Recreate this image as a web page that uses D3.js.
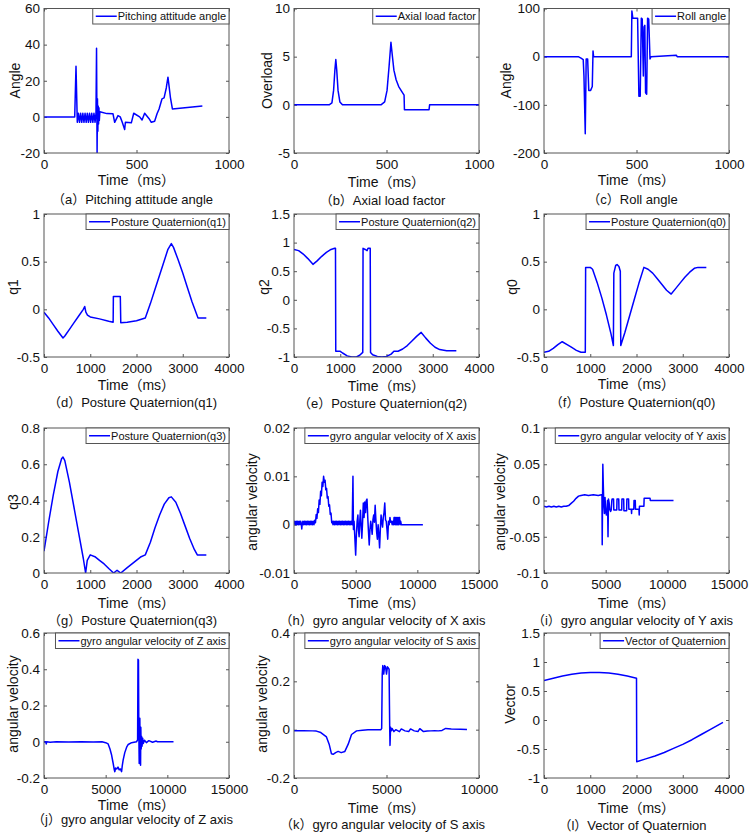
<!DOCTYPE html>
<html><head><meta charset="utf-8">
<script src="https://cdn.jsdelivr.net/npm/d3@7"></script>
<style>
body{margin:0;background:#fff}
text{font-family:"Liberation Sans",Arial,"Noto Sans CJK SC",sans-serif;fill:#111}
</style>
</head><body>
<svg id="c" width="750" height="835"></svg>
<script>
// ---------------- data ----------------
const pitchData = [[0,0],[166,0],[173,28],[180,-3],[186,2],[192,-3],[198,2],[204,-3],[210,2],[216,-3],[222,2],[228,-3],[234,2],[240,-3],[246,2],[252,-3],[258,2],[264,-3],[270,2],[276,-3],[281,2],[284,38],[287,-20],[289,10],[291,-8],[293,6],[295,-4],[297,5],[299,-2],[302,2.8],[340,1.8],[373,1.7],[382,-3],[400,0.7],[412,0],[423,-3],[436,-7],[440,-3],[472,-3.3],[485,2],[517,0],[530,-1.7],[544,2],[568,-1],[580,-3],[598,-2.4],[611,1.7],[622,4.4],[638,10],[649,10.5],[661,16],[670,22],[676,17],[683,11],[694,4.4],[856,6]];
const axialData = [[0,0],[190,0],[205,0.2],[214,1.5],[221,3.6],[226,4.7],[231,3.6],[238,1.5],[248,0.3],[262,0],[470,0],[490,0.3],[503,1.5],[514,4],[524,6.5],[531,5.2],[540,3.6],[552,2.6],[566,1.9],[582,1.4],[595,1.0],[597,-0.5],[730,-0.5],[733,0],[1000,0]];
const rollData = [[0,0],[185,0],[200,-3],[212,-6],[216,-40],[223,-160],[228,-5],[236,-5],[242,-70],[252,-70],[261,-62],[265,12],[268,0],[472,0],[475,95],[480,80],[506,80],[513,-82],[520,-82],[526,80],[531,78],[537,-40],[541,62],[545,65],[549,-75],[555,-78],[560,80],[566,78],[573,-5],[578,0],[715,3],[720,0],[1000,0]];
const q1Data = [[0,-0.03],[100,-0.09],[200,-0.16],[300,-0.23],[411,-0.3],[450,-0.28],[550,-0.21],[650,-0.14],[750,-0.07],[850,0],[880,0.03],[905,-0.03],[940,-0.06],[1000,-0.08],[1200,-0.1],[1400,-0.125],[1495,-0.135],[1500,0.135],[1650,0.135],[1660,-0.14],[1800,-0.135],[2000,-0.12],[2190,-0.09],[2300,0.06],[2400,0.21],[2500,0.36],[2600,0.51],[2680,0.63],[2753,0.69],[2800,0.65],[2900,0.52],[3000,0.38],[3100,0.23],[3200,0.08],[3330,-0.09],[3510,-0.09]];
const q2Data = [[0,0.88],[100,0.86],[200,0.8],[300,0.72],[410,0.62],[500,0.68],[600,0.76],[700,0.83],[800,0.88],[880,0.9],[897,0.9],[903,-0.9],[1000,-0.9],[1050,-0.93],[1150,-0.98],[1250,-1.0],[1350,-1.0],[1420,-0.97],[1487,-0.92],[1493,0.9],[1540,0.88],[1580,0.86],[1600,0.9],[1648,0.9],[1655,-0.92],[1700,-0.96],[1800,-0.99],[1900,-1.0],[2000,-0.99],[2100,-0.95],[2160,-0.9],[2250,-0.9],[2350,-0.86],[2450,-0.8],[2550,-0.72],[2650,-0.64],[2750,-0.57],[2850,-0.67],[2950,-0.76],[3050,-0.83],[3150,-0.87],[3300,-0.89],[3510,-0.89]];
const q0Data = [[0,-0.45],[100,-0.44],[200,-0.41],[300,-0.37],[394,-0.34],[500,-0.37],[600,-0.4],[700,-0.43],[800,-0.45],[893,-0.45],[900,0.44],[1000,0.44],[1050,0.42],[1150,0.28],[1250,0.12],[1350,-0.06],[1450,-0.26],[1500,-0.38],[1510,0.38],[1550,0.46],[1580,0.47],[1620,0.45],[1650,0.4],[1660,-0.38],[1750,-0.24],[1850,-0.07],[1950,0.1],[2050,0.27],[2160,0.44],[2250,0.42],[2350,0.38],[2450,0.32],[2550,0.26],[2650,0.2],[2750,0.16],[2850,0.22],[2950,0.28],[3050,0.34],[3150,0.39],[3250,0.43],[3330,0.44],[3510,0.44]];
const q3Data = [[0,0.12],[100,0.28],[200,0.43],[300,0.56],[380,0.63],[411,0.64],[450,0.62],[550,0.5],[650,0.36],[750,0.22],[850,0.08],[900,0],[935,0.07],[1000,0.1],[1100,0.09],[1200,0.07],[1300,0.05],[1400,0.025],[1505,0],[1580,0.015],[1660,0],[1800,0.03],[1950,0.06],[2100,0.09],[2190,0.1],[2300,0.17],[2400,0.25],[2500,0.32],[2600,0.38],[2700,0.415],[2753,0.42],[2850,0.39],[2950,0.33],[3050,0.26],[3150,0.19],[3250,0.13],[3315,0.1],[3510,0.1]];
const gyroXData = [[0,0],[60,0.0007],[120,0],[180,0.0007],[240,0],[300,0.0007],[360,0],[420,0.0007],[480,0],[540,0.0007],[600,0],[630,-0.0009],[660,0],[720,0.0007],[780,0],[840,0.0007],[900,0],[960,0.0007],[1020,0],[1080,0.0007],[1140,0],[1200,0.0007],[1260,0],[1320,0.0007],[1380,0],[1440,0.0007],[1500,0],[1560,0.0007],[1620,0],[1680,0.0009],[1740,0.0004],[1800,0.0021],[1860,0.0013],[1920,0.0033],[1980,0.0025],[2040,0.0051],[2100,0.0042],[2160,0.0069],[2220,0.006],[2280,0.0088],[2340,0.0079],[2400,0.0100],[2460,0.0088],[2520,0.0092],[2580,0.0072],[2640,0.0075],[2700,0.0055],[2760,0.0058],[2820,0.0038],[2880,0.0041],[2940,0.0021],[3000,0.0024],[3060,0.0004],[3100,0.0007],[3160,0],[3220,0.0007],[3280,0],[3340,0.0007],[3400,0],[3460,0.0007],[3520,0],[3580,0.0007],[3640,0],[3700,0.0007],[3760,0],[3820,0.0007],[3880,0],[3940,0.0007],[4000,0],[4060,0.0007],[4120,0],[4180,0.0007],[4240,0],[4300,0.0007],[4360,0],[4420,0.0007],[4480,0],[4540,0.0007],[4600,0],[4660,0.0007],[4720,0],[4780,0.0100],[4820,-0.0010],[4870,0.0007],[4920,-0.0020],[5000,-0.0063],[5060,-0.0020],[5120,0.0007],[5180,0.0020],[5230,-0.0012],[5280,-0.0025],[5340,0.0010],[5390,0.0030],[5440,0],[5500,-0.0028],[5560,0.0005],[5620,0.0045],[5680,0.0015],[5740,0.0047],[5800,0.0025],[5860,0.0050],[5920,0.0053],[5980,0.0015],[6040,-0.0015],[6100,-0.0042],[6160,-0.0010],[6220,0.0007],[6280,-0.0005],[6340,-0.0020],[6400,0.0010],[6460,0.0020],[6520,0.0005],[6580,0.0040],[6640,0.0010],[6700,-0.0015],[6760,-0.0030],[6820,0],[6880,-0.0020],[6940,-0.0048],[7000,-0.0010],[7060,0.0020],[7120,0.0005],[7180,-0.0005],[7240,0.0015],[7300,0.0025],[7360,0.0045],[7420,0.0010],[7480,0.0007],[7540,-0.0010],[7600,-0.0030],[7660,0.0007],[7720,0],[7780,0.0015],[7840,0.0005],[7900,0.0007],[7960,0],[8020,0.0007],[8080,0],[8110,0.0015],[8170,0.0015],[8200,0],[8230,0.0015],[8290,0],[8320,0.0015],[8380,0],[8410,0.0015],[8470,0],[8500,0.0015],[8560,0.0015],[8600,0],[8650,0.0007],[8700,0],[10450,0]];
const gyroYData = [[0,-0.008],[200,-0.009],[400,-0.008],[600,-0.009],[800,-0.008],[1000,-0.009],[1200,-0.008],[1400,-0.009],[1600,-0.008],[1800,-0.008],[2000,-0.007],[2200,-0.004],[2400,-0.001],[2600,0.003],[2800,0.006],[3000,0.007],[3300,0.008],[3600,0.007],[4000,0.008],[4400,0.007],[4650,0.008],[4700,0.008],[4720,-0.061],[4770,0.05],[4810,0.02],[4850,-0.005],[4900,-0.018],[4950,0.004],[5000,-0.015],[5060,-0.02],[5110,-0.012],[5150,0],[5190,-0.05],[5230,0.002],[5280,-0.003],[5330,-0.012],[5400,-0.015],[5450,-0.013],[5500,0],[5520,0.002],[5640,0.002],[5660,-0.013],[5900,-0.013],[5920,0.002],[6060,0.002],[6080,-0.013],[6300,-0.013],[6320,0.002],[6460,0.002],[6480,-0.014],[6700,-0.014],[6720,0.002],[6860,0.002],[6880,-0.012],[7080,-0.012],[7100,-0.018],[7120,-0.012],[7280,-0.012],[7300,0],[7400,0],[7420,-0.012],[7700,-0.012],[7720,-0.02],[7740,-0.008],[8100,-0.008],[8120,0.003],[8600,0.003],[8620,0],[10500,0]];
const gyroZData = [[0,0],[150,0],[180,-0.012],[220,0],[500,-0.003],[1000,0],[2000,-0.002],[3000,0],[4000,-0.002],[4700,0],[5000,-0.005],[5200,-0.012],[5350,-0.04],[5470,-0.07],[5610,-0.12],[5700,-0.155],[5745,-0.165],[5800,-0.145],[5900,-0.15],[6000,-0.14],[6100,-0.155],[6200,-0.15],[6290,-0.165],[6350,-0.13],[6420,-0.1],[6550,-0.06],[6700,-0.03],[6830,-0.015],[7100,-0.005],[7500,0],[7590,0.01],[7620,0.455],[7660,0.45],[7690,0.05],[7720,-0.12],[7750,-0.05],[7770,0.13],[7800,-0.08],[7830,-0.13],[7850,0.08],[7880,-0.04],[7910,0.03],[7950,-0.025],[8000,0.02],[8050,-0.01],[8150,0.008],[8300,-0.005],[8500,0.006],[8800,-0.003],[9100,0.004],[9200,0],[10500,0]];
const gyroSData = [[0,-0.005],[500,-0.004],[1000,-0.005],[1210,-0.006],[1450,-0.012],[1754,-0.03],[1900,-0.06],[2025,-0.1],[2116,-0.102],[2250,-0.095],[2387,-0.09],[2550,-0.095],[2749,-0.09],[2930,-0.06],[3110,-0.02],[3382,-0.005],[3700,-0.002],[4000,0],[4700,0],[4740,0.005],[4770,0.23],[4800,0.265],[4850,0.23],[4900,0.265],[4950,0.26],[5000,0.23],[5050,0.26],[5100,0.255],[5140,0.25],[5160,0.1],[5175,0],[5190,-0.065],[5220,0.01],[5260,-0.005],[5300,0.005],[5400,-0.008],[5500,0],[5700,-0.008],[5800,0.003],[6000,-0.005],[6200,-0.008],[6300,0.003],[6500,-0.005],[6700,-0.008],[6800,0.004],[7000,-0.008],[7200,-0.006],[7400,-0.005],[7600,-0.004],[7800,-0.005],[8000,-0.003],[8200,0.005],[8500,0.003],[9000,0.002],[9350,0.001]];
const vectorData = [[0,0.68],[200,0.72],[400,0.76],[600,0.79],[800,0.81],[1000,0.82],[1100,0.82],[1200,0.82],[1400,0.81],[1600,0.79],[1800,0.76],[2000,0.72],[2005,-0.72],[2200,-0.67],[2400,-0.62],[2600,-0.56],[2800,-0.49],[3000,-0.42],[3200,-0.34],[3400,-0.25],[3600,-0.16],[3870,-0.04]];

// tick values
const xTicks1000 = [0,500,1000];
const xTicks4000 = [0,1000,2000,3000,4000];
const xTicks15000 = [0,5000,10000,15000];
const xTicks10000 = [0,5000,10000];
const yTicksPitch = [-20,0,20,40,60];
const yTicksAxial = [-5,0,5,10];
const yTicksRoll = [-200,-100,0,100];
const yTicksQ1 = [-0.5,0,0.5,1];
const yTicksQ2 = [-1,-0.5,0,0.5,1,1.5];
const yTicksQ0 = [-0.5,0,0.5,1];
const yTicksQ3 = [0,0.2,0.4,0.6,0.8];
const yTicksGX = [-0.01,0,0.01,0.02];
const yTicksGY = [-0.1,-0.05,0,0.05,0.1];
const yTicksGZ = [-0.2,0,0.2,0.4,0.6];
const yTicksGS = [-0.2,0,0.2,0.4];
const yTicksVec = [-1,-0.5,0,0.5,1,1.5];

const yLabels = ['Angle','Overload','Angle','q1','q2','q0','q3','angular velocity','angular velocity','angular velocity','angular velocity','Vector'];
const legends = ['Pitching attitude angle','Axial load factor','Roll angle','Posture Quaternion(q1)','Posture Quaternion(q2)','Posture Quaternion(q0)','Posture Quaternion(q3)','gyro angular velocity of X axis','gyro angular velocity of Y axis','gyro angular velocity of Z axis','gyro angular velocity of S axis','Vector of Quaternion'];
const captions = ['（a）Pitching attitude angle','（b）Axial load factor','（c）Roll angle','（d）Posture Quaternion(q1)','（e）Posture Quaternion(q2)','（f）Posture Quaternion(q0)','（g）Posture Quaternion(q3)','（h）gyro angular velocity of X axis','（i）gyro angular velocity of Y axis','（j）gyro angular velocity of Z axis','（k）gyro angular velocity of S axis','（l）Vector of Quaternion'];
const xLabel = 'Time（ms）';

const panels = [
  {data:pitchData, xd:[0,1000], xt:xTicks1000, yd:[-20,60], yt:yTicksPitch},
  {data:axialData, xd:[0,1000], xt:xTicks1000, yd:[-5,10], yt:yTicksAxial},
  {data:rollData, xd:[0,1000], xt:xTicks1000, yd:[-200,100], yt:yTicksRoll},
  {data:q1Data, xd:[0,4000], xt:xTicks4000, yd:[-0.5,1], yt:yTicksQ1},
  {data:q2Data, xd:[0,4000], xt:xTicks4000, yd:[-1,1.5], yt:yTicksQ2},
  {data:q0Data, xd:[0,4000], xt:xTicks4000, yd:[-0.5,1], yt:yTicksQ0},
  {data:q3Data, xd:[0,4000], xt:xTicks4000, yd:[0,0.8], yt:yTicksQ3},
  {data:gyroXData, xd:[0,15000], xt:xTicks15000, yd:[-0.01,0.02], yt:yTicksGX},
  {data:gyroYData, xd:[0,15000], xt:xTicks15000, yd:[-0.1,0.1], yt:yTicksGY},
  {data:gyroZData, xd:[0,15000], xt:xTicks15000, yd:[-0.2,0.6], yt:yTicksGZ},
  {data:gyroSData, xd:[0,10000], xt:xTicks10000, yd:[-0.2,0.4], yt:yTicksGS},
  {data:vectorData, xd:[0,4000], xt:xTicks4000, yd:[-1,1.5], yt:yTicksVec}
];

// ---------------- layout ----------------
const colX = [44, 294, 544], PW = 185;
const rowTop = [8.5, 214, 428, 633], rowBot = [153, 357, 573, 778];
const yLabX = [19.5, 272, 511, 17.5, 268.5, 517, 17.5, 257, 505, 17.5, 267, 515];
const yLabY = [80.5, 287, 502, 704];
const timeY = [180,182,180, 385,386,384, 603,603,603, 805,808,808];
const capY = [199,200,199, 402,403,402, 620,620,620, 819,824,825];
const LINE = '#0000ff', AXIS = '#555';

const svg = d3.select('#c');
const defs = svg.append('defs');

panels.forEach((p, i) => {
  const col = i % 3, row = Math.floor(i / 3);
  const L = colX[col], R = L + PW, T = rowTop[row], B = rowBot[row];
  const x = d3.scaleLinear().domain(p.xd).range([L, R]);
  const y = d3.scaleLinear().domain(p.yd).range([B, T]);
  const g = svg.append('g');

  defs.append('clipPath').attr('id', 'clip' + i)
    .append('rect').attr('x', L).attr('y', T).attr('width', R - L).attr('height', B - T);

  g.append('rect').attr('x', L).attr('y', T).attr('width', R - L).attr('height', B - T)
    .attr('fill', '#fff');

  const styleAxis = sel => {
    sel.select('.domain').remove();
    sel.selectAll('.tick line').attr('stroke', AXIS).attr('stroke-width', 1);
    sel.selectAll('text').attr('font-size', 13.5).attr('font-family', null).attr('fill', '#111');
  };
  const fmt = d => String(d);
  g.append('g').attr('transform', `translate(0,${B})`)
    .call(d3.axisBottom(x).tickValues(p.xt).tickFormat(fmt).tickSizeInner(-3).tickSizeOuter(0).tickPadding(6))
    .call(styleAxis);
  g.append('g').attr('transform', `translate(${L},0)`)
    .call(d3.axisLeft(y).tickValues(p.yt).tickFormat(fmt).tickSizeInner(-3).tickSizeOuter(0).tickPadding(4))
    .call(styleAxis);
  g.append('g').attr('transform', `translate(0,${T})`)
    .call(d3.axisTop(x).tickValues(p.xt).tickFormat('').tickSizeInner(-3).tickSizeOuter(0))
    .call(styleAxis);
  g.append('g').attr('transform', `translate(${R},0)`)
    .call(d3.axisRight(y).tickValues(p.yt).tickFormat('').tickSizeInner(-3).tickSizeOuter(0))
    .call(styleAxis);

  const line = d3.line().x(d => x(d[0])).y(d => y(d[1]));
  g.append('path').datum(p.data).attr('d', line)
    .attr('clip-path', `url(#clip${i})`)
    .attr('fill', 'none').attr('stroke', LINE).attr('stroke-width', 1.5)
    .attr('stroke-linejoin', 'round');

  g.append('rect').attr('x', L).attr('y', T).attr('width', R - L).attr('height', B - T)
    .attr('fill', 'none').attr('stroke', AXIS).attr('stroke-width', 1);

  // legend
  const lg = g.append('g');
  const lbox = lg.append('rect');
  const lt = lg.append('text').text(legends[i]).attr('font-size', 11);
  const tw = lt.node().getComputedTextLength();
  const lw = 25 + tw + 3, lh = 15.5;
  const lx = R - lw;
  lbox.attr('x', lx).attr('y', T).attr('width', lw).attr('height', lh)
    .attr('fill', '#fff').attr('stroke', AXIS).attr('stroke-width', 1);
  lg.append('line').attr('x1', lx + 3).attr('x2', lx + 24).attr('y1', T + lh / 2).attr('y2', T + lh / 2)
    .attr('stroke', LINE).attr('stroke-width', 1.5);
  lt.attr('x', lx + 25).attr('y', T + 11.5);

  // y label
  g.append('text').text(yLabels[i]).attr('font-size', 14)
    .attr('text-anchor', 'middle')
    .attr('transform', `translate(${yLabX[i]},${yLabY[row]}) rotate(-90)`);
  // x label
  g.append('text').text(xLabel).attr('font-size', 14).attr('text-anchor', 'middle')
    .attr('x', (L + R) / 2).attr('y', timeY[i] + 5);
  // caption
  g.append('text').text(captions[i]).attr('font-size', 13).attr('text-anchor', 'middle')
    .attr('x', (L + R) / 2 - 4).attr('y', capY[i] + 4.5);
});
</script>
</body></html>
